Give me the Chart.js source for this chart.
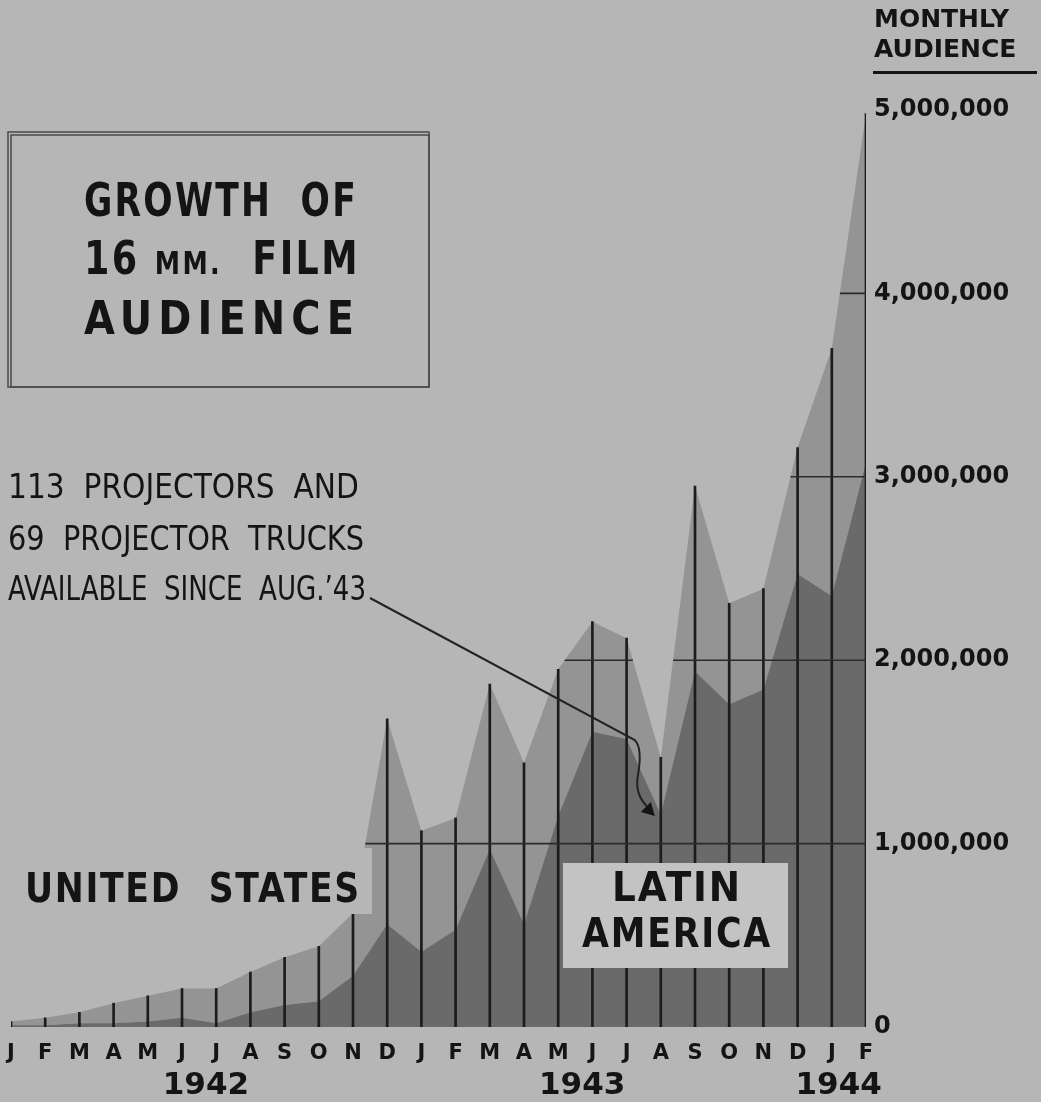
<!DOCTYPE html>
<html>
<head>
<meta charset="utf-8">
<script src="https://cdn.jsdelivr.net/npm/chart.js@4.4.1/dist/chart.umd.min.js"></script>
<style>
  html, body { margin: 0; padding: 0; background: #b6b6b6; }
  #wrap { width: 1041px; height: 1102px; }
</style>
</head>
<body>
<div id="wrap"><canvas id="chart" width="1041" height="1102"></canvas></div>
<script>
// months Jan 1942 - Feb 1944
const months = ['J', 'F', 'M', 'A', 'M', 'J', 'J', 'A', 'S', 'O', 'N', 'D',
                'J', 'F', 'M', 'A', 'M', 'J', 'J', 'A', 'S', 'O', 'N', 'D',
                'J', 'F'];
const years = [
  { label: '1942', at: 5.7 },
  { label: '1943', at: 16.7 },
  { label: '1944', at: 24.2 }
];
// monthly audience
const latinAmerica = [10000, 10000, 20000, 20000, 30000, 50000, 20000, 80000, 120000, 140000, 280000, 560000,
                      410000, 530000, 970000, 560000, 1150000, 1610000, 1570000, 1160000, 1940000, 1760000, 1840000, 2470000,
                      2350000, 3080000];
const unitedStates = [20000, 40000, 60000, 110000, 140000, 160000, 190000, 220000, 260000, 300000, 340000, 1120000,
                      660000, 610000, 900000, 880000, 800000, 600000, 550000, 310000, 1010000, 550000, 550000, 690000,
                      1350000, 1900000];
const yTicks = [0, 1000000, 2000000, 3000000, 4000000, 5000000];

const totals = latinAmerica.map((v, i) => v + unitedStates[i]);

const BG = '#b6b6b6';
const INK = '#141414';

// draw a line of text squeezed to a given width
function fitText(c, parts, x, y, width) {
  let w = 0;
  parts.forEach(p => { c.font = p.font; w += c.measureText(p.text).width; });
  c.save();
  c.translate(x, y);
  c.scale(width / w, 1);
  let cx = 0;
  parts.forEach(p => {
    c.font = p.font;
    c.fillText(p.text, cx, p.dy || 0);
    cx += c.measureText(p.text).width;
  });
  c.restore();
}

const decor = {
  id: 'decor',
  beforeDraw(chart) {
    const c = chart.ctx;
    c.save();
    c.fillStyle = BG;
    c.fillRect(0, 0, chart.width, chart.height);
    c.restore();
  },
  afterDatasetsDraw(chart) {
    const c = chart.ctx;
    const x = chart.scales.x, y = chart.scales.y;
    const top = chart.getDatasetMeta(1).data;
    // grid lines only inside the filled area
    c.save();
    c.beginPath();
    c.moveTo(top[0].x, y.getPixelForValue(0));
    top.forEach(p => c.lineTo(p.x, p.y));
    c.lineTo(top[top.length - 1].x, y.getPixelForValue(0));
    c.closePath();
    c.clip();
    c.strokeStyle = '#2a2a2a';
    c.lineWidth = 1.6;
    yTicks.slice(1).forEach(v => {
      const py = y.getPixelForValue(v);
      c.beginPath();
      c.moveTo(x.left, py);
      c.lineTo(x.right, py);
      c.stroke();
    });
    c.restore();
  },
  afterDraw(chart) {
    const c = chart.ctx;
    const x = chart.scales.x, y = chart.scales.y;
    c.save();
    c.fillStyle = INK;
    c.textBaseline = 'middle';

    // year labels
    c.font = 'bold 31px "DejaVu Sans"';
    c.textAlign = 'center';
    years.forEach(yr => c.fillText(yr.label, x.getPixelForValue(yr.at), 1086));

    // axis title
    c.textAlign = 'left';
    c.font = 'bold 25px "DejaVu Sans"';
    c.fillText('MONTHLY', 874, 20, 156);
    c.fillText('AUDIENCE', 874, 50, 158);
    c.fillRect(873, 71, 164, 3);

    // title box
    c.strokeStyle = '#4a4a4a';
    c.lineWidth = 1.5;
    c.strokeRect(8, 132, 421, 255);
    c.strokeRect(11, 135, 418, 252);
    const big = 'bold 46px "DejaVu Sans"';
    c.letterSpacing = '3px';
    fitText(c, [{ text: 'GROWTH  OF', font: big }], 84, 204, 274);
    fitText(c, [{ text: '16 ', font: big },
                { text: 'MM.', font: 'bold 32px "DejaVu Sans"', dy: 4 },
                { text: '  FILM', font: big }], 84, 262, 276);
    c.letterSpacing = '7px';
    fitText(c, [{ text: 'AUDIENCE', font: big }], 84, 322, 276);
    c.letterSpacing = '0px';

    // note
    c.font = '33px "DejaVu Sans Condensed", "DejaVu Sans"';
    c.fillText('113  PROJECTORS  AND', 8, 489, 352);
    c.fillText('69  PROJECTOR  TRUCKS', 8, 541, 356);
    c.fillText('AVAILABLE  SINCE  AUG.\u201943', 8, 591, 358);

    // arrow pointing at Aug 1943
    const tx = x.getPixelForValue(19) - 6;
    const ty = y.getPixelForValue(1150000);
    c.strokeStyle = '#222';
    c.lineWidth = 2;
    c.beginPath();
    c.moveTo(370, 598);
    c.lineTo(tx - 20, ty - 76);
    c.quadraticCurveTo(tx - 12, ty - 68, tx - 17, ty - 40);
    c.quadraticCurveTo(tx - 20, ty - 22, tx - 8, ty - 10);
    c.stroke();
    c.beginPath();
    c.moveTo(tx, ty);
    c.lineTo(tx - 14, ty - 4);
    c.lineTo(tx - 4, ty - 14);
    c.closePath();
    c.fill();

    // UNITED STATES label with background patch
    c.fillStyle = BG;
    c.fillRect(18, 848, 354, 66);
    c.fillStyle = INK;
    c.font = 'bold 41px "DejaVu Sans"';
    c.letterSpacing = '2px';
    c.fillText('UNITED  STATES', 25, 891, 336);

    // LATIN AMERICA box
    c.fillStyle = '#c3c3c3';
    c.fillRect(563, 863, 225, 105);
    c.fillStyle = INK;
    c.textAlign = 'center';
    c.font = 'bold 40px "DejaVu Sans"';
    c.fillText('LATIN', 677, 891, 130);
    c.fillText('AMERICA', 677, 937, 190);
    c.letterSpacing = '0px';
    c.restore();
  }
};

const ctx = document.getElementById('chart').getContext('2d');
new Chart(ctx, {
  data: {
    labels: months,
    datasets: [
      {
        type: 'line',
        label: 'Latin America',
        data: latinAmerica,
        backgroundColor: '#6a6a6a',
        borderWidth: 0,
        pointRadius: 0,
        fill: 'origin',
        tension: 0,
        stack: 'audience',
        order: 2
      },
      {
        type: 'line',
        label: 'United States',
        data: unitedStates,
        backgroundColor: '#949494',
        borderWidth: 0,
        pointRadius: 0,
        fill: '-1',
        tension: 0,
        stack: 'audience',
        order: 3
      },
      {
        type: 'bar',
        label: 'stalks',
        data: totals,
        backgroundColor: '#1c1c1c',
        barThickness: 2,
        stack: 'stalks',
        order: 1
      }
    ]
  },
  options: {
    responsive: false,
    animation: false,
    layout: { padding: { top: 110, left: 11, right: 0, bottom: 0 } },
    plugins: { legend: { display: false }, tooltip: { enabled: false } },
    scales: {
      x: {
        offset: false,
        grid: { display: false },
        border: { display: false },
        ticks: {
          autoSkip: false,
          maxRotation: 0,
          padding: 6,
          color: INK,
          font: { family: 'DejaVu Sans', weight: 'bold', size: 21 }
        },
        afterFit(s) { s.height = 75; }
      },
      y: {
        position: 'right',
        stacked: true,
        min: 0,
        max: 5000000,
        grid: { display: false },
        border: { display: false },
        ticks: {
          stepSize: 1000000,
          padding: 0,
          color: INK,
          font: { family: 'DejaVu Sans', weight: 'bold', size: 24 },
          callback: v => v.toLocaleString('en-US')
        },
        afterFit(s) { s.width = 175; }
      }
    }
  },
  plugins: [decor]
});
</script>
</body>
</html>
